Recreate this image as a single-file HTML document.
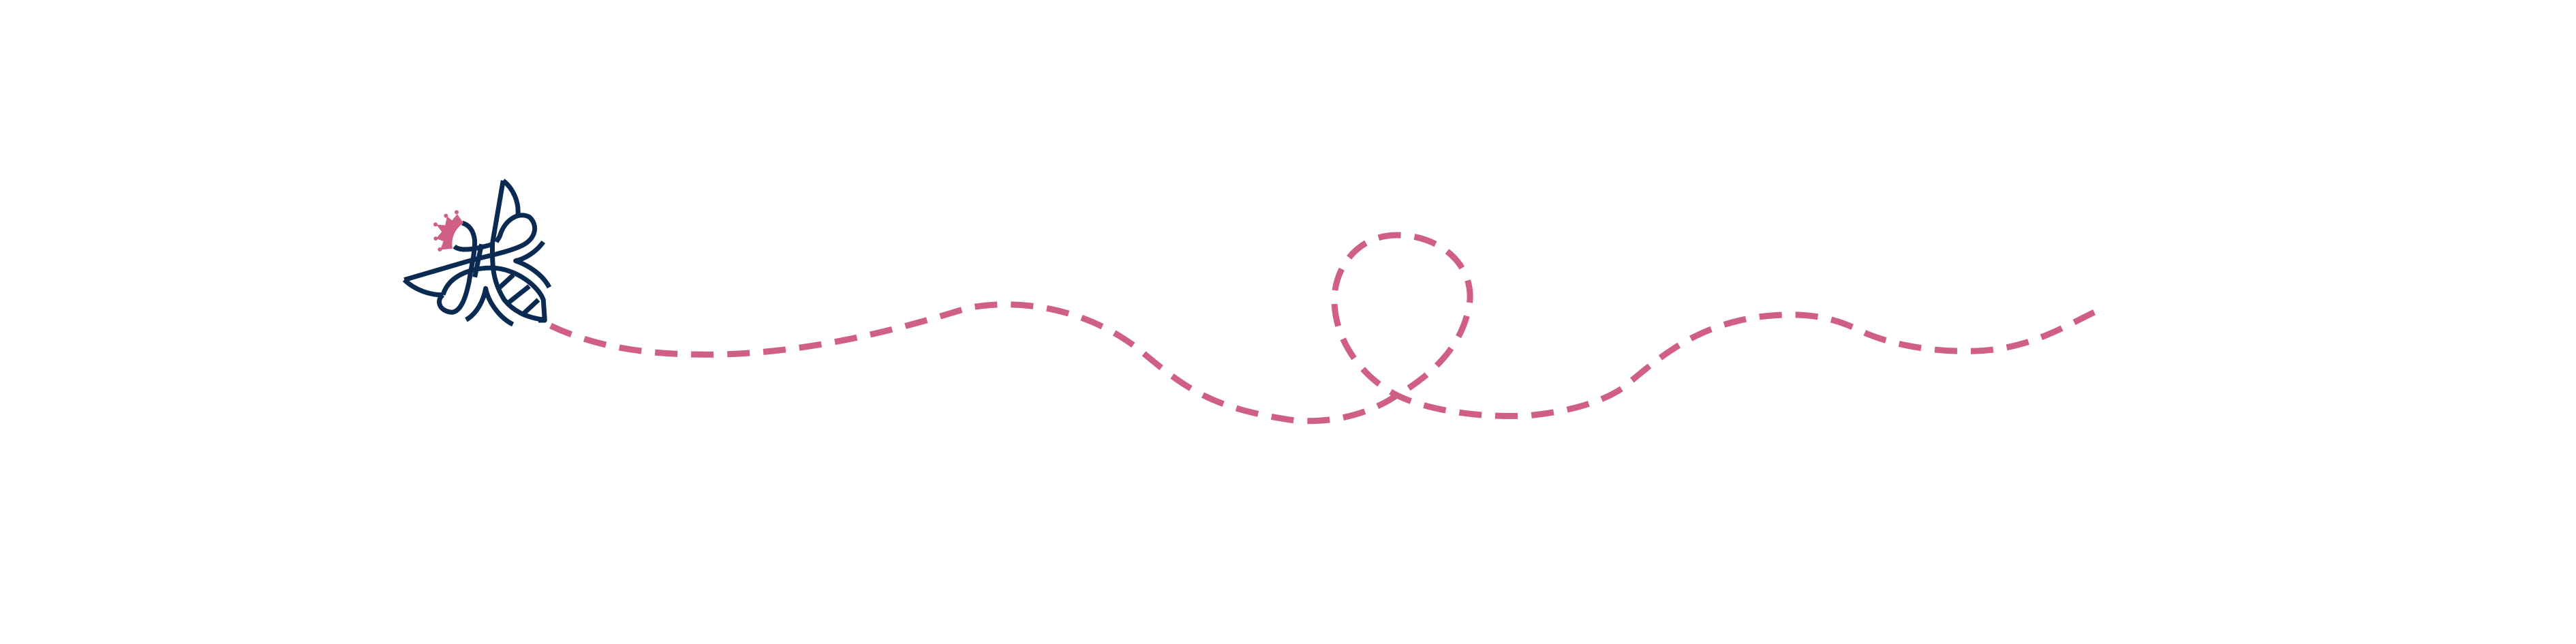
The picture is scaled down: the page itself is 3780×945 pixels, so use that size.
<!DOCTYPE html>
<html><head><style>html,body{margin:0;padding:0;background:#fff;}svg{display:block}</style></head>
<body>
<svg width="3780" height="945" viewBox="0 0 3780 945" xmlns="http://www.w3.org/2000/svg">
<path d="M808,478 C880,512 960,522 1060,520 C1200,516 1330,480 1420,452 C1510,435 1610,460 1680,520 C1740,570 1780,600 1900,617 C1970,622 2020,600 2050,580 C2110,545 2150,500 2157,440 C2160,385 2110,345 2050,345 C1990,345 1958,395 1958,440 C1958,500 2000,555 2050,580 C2090,600 2160,613 2240,610 C2300,605 2350,590 2380,570 C2430,530 2480,480 2580,465 C2660,455 2700,470 2740,490 C2790,510 2850,517 2900,515 C2980,512 3030,478 3080,455" fill="none" stroke="#d05f85" stroke-width="9" stroke-dasharray="33,20"/>
<g transform="translate(560,240) scale(0.3333)" fill="none" stroke="#0a2a52" stroke-width="21" stroke-linecap="butt" stroke-linejoin="round">
<path d="M535,75 C580,110 605,170 600,225"/>
<path d="M535,75 L488,350 C485,450 490,520 540,600 C580,650 640,680 720,688"/>
<path d="M100,512 C150,560 220,580 270,578"/>
<path d="M270,578 C240,600 250,650 310,655 C350,650 370,590 385,520 C395,450 410,400 410,340 C405,290 380,268 355,262"/>
<path d="M100,512 L380,430 C450,410 560,390 620,360 C680,330 690,270 650,235 C600,210 540,250 520,320 L505,345"/>
<path d="M320,365 C350,390 420,375 490,355"/>
<path d="M440,355 L410,500"/>
<path d="M270,578 C300,480 420,455 500,460 C600,470 690,540 712,600 L718,690 L690,690"/>
<path d="M520,545 L580,490 M555,615 L650,540 M620,665 L690,600"/>
<path d="M712,345 C680,390 630,420 590,428 C650,450 710,490 738,545"/>
<path d="M372,688 C420,660 450,600 458,550 C470,610 520,680 578,708"/>
</g>
<g transform="translate(560,240) scale(0.3333)" fill="#d05f85">
<path d="M360,262 L333,222 L310,250 L288,232 L280,272 L240,268 L265,300 L240,330 L272,342 L258,380 L312,374 C305,330 320,290 360,262 Z"/>
<circle cx="330" cy="214" r="9"/><circle cx="283" cy="230" r="9"/><circle cx="237" cy="268" r="9"/><circle cx="238" cy="330" r="9"/><circle cx="256" cy="378" r="9"/>
</g>
</svg>
</body></html>
